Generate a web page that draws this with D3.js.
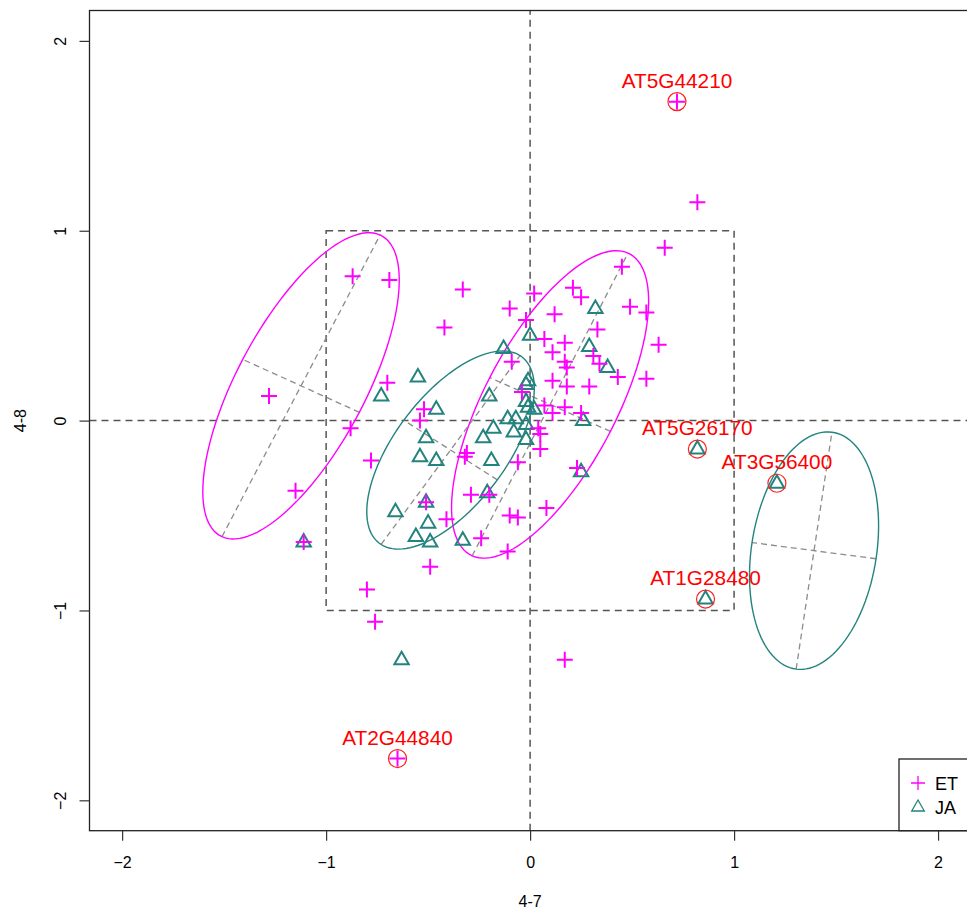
<!DOCTYPE html>
<html>
<head>
<meta charset="utf-8">
<script src="https://cdn.jsdelivr.net/npm/d3@7"></script>
<style>
  body { margin: 0; background: #fff; }
  svg { display: block; font-family: 'Liberation Sans', Arial, sans-serif; }
</style>
</head>
<body>
<svg id="chart" width="967" height="911"></svg>
<script>
// ET points (x = 4-7, y = 4-8)
const etX = [0.72, 0.82, 0.66, 0.45, 0.49, 0.57, 0.63, 0.57, 0.43, 0.33, 0.25, 0.21, 0.02,
  -0.33, -0.42, -0.10, -0.02, 0.12, 0.07, 0.17, 0.11, -0.09, 0.17, 0.18, 0.31, 0.34, 0.11,
  0.18, 0.29, -0.04, 0.07, 0.11, 0.17, 0.25, 0.04, 0.05, 0.05, -0.06, 0.23, 0.08, -0.10,
  -0.06, -0.11, -0.24, -0.41, -0.29, -0.20, -0.31, -0.32, -0.51, -0.49, -0.80, -0.76, 0.17,
  -0.65, -0.52, -0.54, -0.70, -0.87, -0.69, -1.28, -0.88, -0.78, -1.15, -1.11];
const etY = [1.68, 1.15, 0.91, 0.81, 0.60, 0.57, 0.40, 0.22, 0.23, 0.48, 0.65, 0.70, 0.67,
  0.69, 0.49, 0.59, 0.53, 0.56, 0.43, 0.41, 0.36, 0.31, 0.31, 0.28, 0.34, 0.30, 0.21,
  0.18, 0.18, 0.15, 0.08, 0.04, 0.07, 0.04, -0.04, -0.07, -0.15, -0.22, -0.25, -0.46, -0.50,
  -0.51, -0.69, -0.62, -0.52, -0.39, -0.39, -0.17, -0.19, -0.43, -0.77, -0.89, -1.06, -1.26,
  -1.78, 0.06, 0.00, 0.20, 0.76, 0.74, 0.13, -0.04, -0.21, -0.37, -0.64];

// JA points
const jaX = [0.82, 1.21, 0.86, 0.32, 0.00, -0.13, 0.29, 0.38, -0.55, -0.73, -0.01, -0.02,
  -0.20, -0.46, -0.02, -0.01, 0.02, -0.11, -0.07, -0.02, -0.18, -0.08, -0.23, -0.02, -0.51,
  0.26, -0.54, -0.46, -0.19, 0.25, -0.21, -0.51, -0.66, -0.50, -0.56, -0.49, -0.33, -1.11, -0.63];
const jaY = [-0.15, -0.33, -0.94, 0.59, 0.45, 0.38, 0.39, 0.28, 0.23, 0.13, 0.21, 0.19,
  0.13, 0.06, 0.10, 0.07, 0.06, 0.01, 0.01, -0.02, -0.04, -0.06, -0.09, -0.10, -0.09,
  0.00, -0.19, -0.21, -0.21, -0.27, -0.38, -0.43, -0.48, -0.54, -0.61, -0.64, -0.63, -0.64, -1.26];

// highlighted genes
const labelNames = ['AT5G44210', 'AT5G26170', 'AT3G56400', 'AT1G28480', 'AT2G44840'];
const labelX = [0.72, 0.82, 1.21, 0.86, -0.65];
const labelY = [1.68, -0.15, -0.33, -0.94, -1.78];

// ellipses: group, centre, semi axes, angle of major axis (degrees)
const ellGroup = ['ET', 'ET', 'JA', 'JA'];
const ellCx = [-1.123, 0.098, -0.39, 1.392];
const ellCy = [0.183, 0.085, -0.155, -0.685];
const ellA = [0.884, 0.884, 0.603, 0.630];
const ellB = [0.318, 0.328, 0.278, 0.307];
const ellAngle = [64.0, 64.4, 55.6, 82.0];

const ticks = [-2, -1, 0, 1, 2];
const groups = ['ET', 'JA'];
const colors = { ET: '#ff00ff', JA: '#23837e' };

const svg = d3.select('#chart');
const x = d3.scaleLinear().domain([-2.16, 2.16]).range([89.5, 970.7]);
const y = d3.scaleLinear().domain([-2.16, 2.16]).range([830.7, 10.5]);

svg.append('clipPath').attr('id', 'plot-clip')
  .append('rect')
  .attr('x', x(-2.16)).attr('y', y(2.16))
  .attr('width', x(2.16) - x(-2.16)).attr('height', y(-2.16) - y(2.16));

const plot = svg.append('g').attr('clip-path', 'url(#plot-clip)');

// reference lines
const darkDash = { stroke: '#555', width: 1.5, dash: '7,5' };
function dashLine(g, x1, y1, x2, y2, st) {
  g.append('line')
    .attr('x1', x1).attr('y1', y1).attr('x2', x2).attr('y2', y2)
    .attr('stroke', st.stroke).attr('stroke-width', st.width)
    .attr('stroke-dasharray', st.dash);
}
dashLine(plot, x(0), y(-2.16), x(0), y(2.16), darkDash);
dashLine(plot, x(-2.16), y(0), x(2.16), y(0), darkDash);
plot.append('rect')
  .attr('x', x(-1)).attr('y', y(1))
  .attr('width', x(1) - x(-1)).attr('height', y(-1) - y(1))
  .attr('fill', 'none').attr('stroke', '#555').attr('stroke-width', 1.5)
  .attr('stroke-dasharray', '7,5');

// ellipses and their axes
const lineGen = d3.line().x(d => x(d[0])).y(d => y(d[1]));
const axisDash = { stroke: '#8c8c8c', width: 1.3, dash: '6,4' };
ellGroup.forEach((grp, i) => {
  const th = ellAngle[i] * Math.PI / 180;
  const u = [Math.cos(th), Math.sin(th)];
  const v = [-Math.sin(th), Math.cos(th)];
  const pts = d3.range(0, 361, 3).map(deg => {
    const t = deg * Math.PI / 180;
    return [
      ellCx[i] + ellA[i] * Math.cos(t) * u[0] + ellB[i] * Math.sin(t) * v[0],
      ellCy[i] + ellA[i] * Math.cos(t) * u[1] + ellB[i] * Math.sin(t) * v[1]
    ];
  });
  dashLine(plot,
    x(ellCx[i] - ellA[i] * u[0]), y(ellCy[i] - ellA[i] * u[1]),
    x(ellCx[i] + ellA[i] * u[0]), y(ellCy[i] + ellA[i] * u[1]), axisDash);
  dashLine(plot,
    x(ellCx[i] - ellB[i] * v[0]), y(ellCy[i] - ellB[i] * v[1]),
    x(ellCx[i] + ellB[i] * v[0]), y(ellCy[i] + ellB[i] * v[1]), axisDash);
  plot.append('path')
    .attr('d', lineGen(pts) + 'Z')
    .attr('fill', 'none')
    .attr('stroke', colors[grp])
    .attr('stroke-width', 1.4);
});

// points
const triPath = 'M0,-8L7.2,4.5L-7.2,4.5Z';
const plusPath = 'M-8,0H8M0,-8V8';

plot.append('g').selectAll('path')
  .data(d3.range(jaX.length))
  .join('path')
  .attr('transform', i => `translate(${x(jaX[i])},${y(jaY[i])})`)
  .attr('d', triPath)
  .attr('fill', 'none')
  .attr('stroke', colors.JA)
  .attr('stroke-width', 2);

plot.append('g').selectAll('path')
  .data(d3.range(etX.length))
  .join('path')
  .attr('transform', i => `translate(${x(etX[i])},${y(etY[i])})`)
  .attr('d', plusPath)
  .attr('fill', 'none')
  .attr('stroke', colors.ET)
  .attr('stroke-width', 2);

// highlighted genes
const lab = plot.append('g');
labelNames.forEach((name, i) => {
  lab.append('circle')
    .attr('cx', x(labelX[i])).attr('cy', y(labelY[i])).attr('r', 9)
    .attr('fill', 'none').attr('stroke', '#ff2020').attr('stroke-width', 1.2);
  lab.append('text')
    .attr('x', x(labelX[i])).attr('y', y(labelY[i]) - 14)
    .attr('text-anchor', 'middle')
    .attr('font-size', 20.8)
    .attr('fill', '#ff0000')
    .text(name);
});

// frame
svg.append('rect')
  .attr('x', x(-2.16)).attr('y', y(2.16))
  .attr('width', x(2.16) - x(-2.16)).attr('height', y(-2.16) - y(2.16))
  .attr('fill', 'none').attr('stroke', '#222').attr('stroke-width', 1.3);

// axes
const axX = svg.append('g')
  .attr('transform', `translate(0,${y(-2.16)})`)
  .call(d3.axisBottom(x).tickValues(ticks).tickSize(10).tickFormat(d3.format('d')));
axX.select('.domain').remove();
axX.selectAll('line').attr('stroke', '#333').attr('stroke-width', 1.2);
axX.selectAll('text').attr('y', 37).attr('dy', 0)
  .attr('font-size', 16).attr('fill', '#000').attr('font-family', null);

const axY = svg.append('g')
  .attr('transform', `translate(${x(-2.16)},0)`)
  .call(d3.axisLeft(y).tickValues(ticks).tickSize(10).tickFormat(d3.format('d')));
axY.select('.domain').remove();
axY.selectAll('line').attr('stroke', '#333').attr('stroke-width', 1.2);
axY.selectAll('text')
  .attr('transform', 'rotate(-90)')
  .attr('x', 0).attr('y', -24).attr('dy', 0)
  .attr('text-anchor', 'middle')
  .attr('font-size', 16).attr('fill', '#000').attr('font-family', null);

svg.append('text')
  .attr('x', x(0)).attr('y', 907)
  .attr('text-anchor', 'middle').attr('font-size', 16)
  .text('4-7');
svg.append('text')
  .attr('transform', `translate(26,${y(0)}) rotate(-90)`)
  .attr('text-anchor', 'middle').attr('font-size', 16)
  .text('4-8');

// legend
const leg = svg.append('g');
leg.append('rect')
  .attr('x', 899).attr('y', 759).attr('width', 80).attr('height', y(-2.16) - 759)
  .attr('fill', '#fff').attr('stroke', '#222').attr('stroke-width', 1.3);
groups.forEach((grp, i) => {
  const cy = 783 + i * 24;
  leg.append('path')
    .attr('transform', `translate(918,${cy})`)
    .attr('d', grp === 'ET' ? 'M-7,0H7M0,-7V7' : 'M0,-7L6.3,4L-6.3,4Z')
    .attr('fill', 'none').attr('stroke', colors[grp]).attr('stroke-width', 1.3);
  leg.append('text')
    .attr('x', 935).attr('y', cy + 7)
    .attr('font-size', 18)
    .text(grp);
});
</script>
</body>
</html>
